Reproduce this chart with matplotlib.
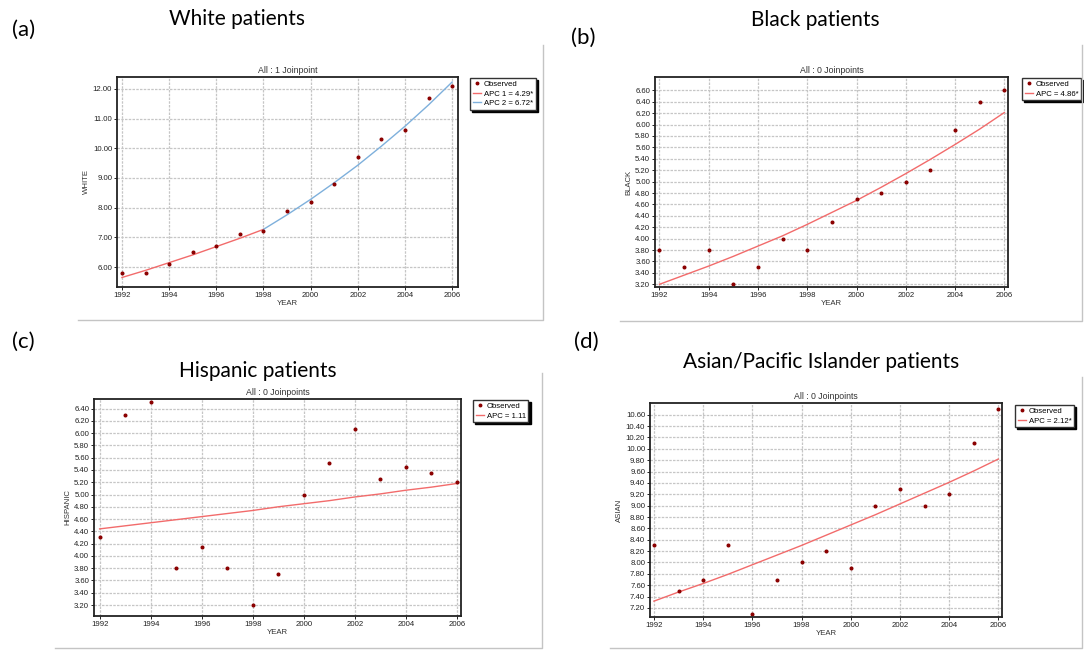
import matplotlib
matplotlib.use("Agg")
import matplotlib.pyplot as plt
from matplotlib.lines import Line2D
import numpy as np

W, H = 1084, 650

years = list(range(1992, 2007))
year_ticks = list(range(1992, 2007, 2))

white_obs = [5.8, 5.8, 6.1, 6.5, 6.7, 7.1, 7.2, 7.9, 8.2, 8.8, 9.7, 10.3, 10.6, 11.7, 12.1]
white_fit1_years = list(range(1992, 1999))
white_fit1 = [5.65, 5.89, 6.15, 6.41, 6.69, 6.97, 7.27]
white_fit2_years = list(range(1998, 2007))
white_fit2 = [7.27, 7.76, 8.28, 8.84, 9.43, 10.07, 10.74, 11.46, 12.23]

black_obs = [3.8, 3.5, 3.8, 3.2, 3.5, 4.0, 3.8, 4.3, 4.7, 4.8, 5.0, 5.2, 5.9, 6.4, 6.6]
black_fit = [3.20, 3.36, 3.52, 3.69, 3.87, 4.05, 4.25, 4.46, 4.67, 4.90, 5.14, 5.39, 5.65, 5.92, 6.21]

hisp_obs = [4.3, 6.3, 6.5, 3.8, 4.15, 3.8, 3.2, 3.7, 5.0, 5.52, 6.06, 5.25, 5.45, 5.35, 5.2]
hisp_fit = [4.44, 4.49, 4.54, 4.59, 4.64, 4.69, 4.74, 4.80, 4.85, 4.90, 4.96, 5.01, 5.07, 5.12, 5.18]

asian_obs = [8.3, 7.5, 7.7, 8.3, 7.1, 7.7, 8.0, 8.2, 7.9, 9.0, 9.3, 9.0, 9.2, 10.1, 10.7]
asian_fit = [7.32, 7.48, 7.63, 7.79, 7.96, 8.13, 8.30, 8.48, 8.66, 8.84, 9.03, 9.22, 9.41, 9.61, 9.82]

plt.rcParams["font.family"] = ["Liberation Sans", "DejaVu Sans"]

fig = plt.figure(figsize=(W / 100, H / 100), dpi=100)
fig.patch.set_facecolor("white")

OBS_C = "#8b0000"
RED = "#f26b6b"
BLUE = "#7eb0dc"
GRID = "#c6c6c6"
SMALL = 5.6
BIGFONT = ["Lato", "Open Sans", "DejaVu Sans"]


def fx(px):
    return px / W


def fy(py):
    return 1 - py / H


def add_ax(x0, y0, x1, y1):
    return fig.add_axes([fx(x0), fy(y1), fx(x1) - fx(x0), (y1 - y0) / H])


def style(ax, xlim, ylim, yticks, ylabel, title):
    ax.set_xlim(*xlim)
    ax.set_ylim(*ylim)
    ax.set_xticks(year_ticks)
    ax.set_xticklabels([str(y) for y in year_ticks], fontsize=SMALL, color="#222222")
    ax.set_yticks(yticks)
    ax.set_yticklabels([f"{v:.2f}" for v in yticks], fontsize=SMALL, color="#222222")
    ax.tick_params(length=2, width=0.6, pad=1.5)
    ax.grid(True, color=GRID, linestyle=(0, (2, 1)), linewidth=0.9)
    ax.set_axisbelow(True)
    for s in ax.spines.values():
        s.set_linewidth(1.3)
        s.set_color("#222222")
    ax.set_xlabel("YEAR", fontsize=SMALL, labelpad=1, color="#333333")
    ax.set_ylabel(ylabel, fontsize=SMALL, labelpad=2, color="#333333")
    ax.set_title(title, fontsize=6.3, pad=3, color="#333333")


def legend(ax, handles, labels, x0, y0):
    ax.legend(handles, labels, loc="upper left", bbox_to_anchor=(fx(x0), fy(y0)),
              bbox_transform=fig.transFigure, fontsize=SMALL, frameon=True,
              fancybox=False, edgecolor="#333333", framealpha=1,
              shadow={"ox": 1.5, "oy": -1.5, "color": "black", "alpha": 1},
              handlelength=1.0, handletextpad=0.4, borderpad=0.35,
              labelspacing=0.25, borderaxespad=0)


obs_handle = Line2D([], [], marker="o", markersize=1.8, color=OBS_C, linestyle="none")
red_handle = Line2D([], [], color=RED, linewidth=1)
blue_handle = Line2D([], [], color=BLUE, linewidth=1)
MS = 1.9

# (a) White
ax = add_ax(117, 77, 458, 287)
ax.plot(white_fit1_years, white_fit1, color=RED, linewidth=1)
ax.plot(white_fit2_years, white_fit2, color=BLUE, linewidth=1)
ax.plot(years, white_obs, "o", color=OBS_C, markersize=MS)
style(ax, (1991.79, 2006.25), (5.33, 12.40), list(np.arange(6, 12.5, 1.0)), "WHITE", "All : 1 Joinpoint")
legend(ax, [obs_handle, red_handle, blue_handle], ["Observed", "APC 1 = 4.29*", "APC 2 = 6.72*"], 470, 78)

# (b) Black
ax = add_ax(655, 77, 1008, 287)
ax.plot(years, black_fit, color=RED, linewidth=1)
ax.plot(years, black_obs, "o", color=OBS_C, markersize=MS)
style(ax, (1991.82, 2006.15), (3.153, 6.833), list(np.round(np.arange(3.2, 6.61, 0.2), 2)), "BLACK", "All : 0 Joinpoints")
legend(ax, [obs_handle, red_handle], ["Observed", "APC = 4.86*"], 1022, 78)

# (c) Hispanic
ax = add_ax(94, 399, 461, 616)
ax.plot(years, hisp_fit, color=RED, linewidth=1)
ax.plot(years, hisp_obs, "o", color=OBS_C, markersize=MS)
style(ax, (1991.78, 2006.16), (3.021, 6.556), list(np.round(np.arange(3.2, 6.41, 0.2), 2)), "HISPANIC", "All : 0 Joinpoints")
legend(ax, [obs_handle, red_handle], ["Observed", "APC = 1.11"], 473, 400)

# (d) Asian/Pacific Islander
ax = add_ax(650, 403, 1002, 617)
ax.plot(years, asian_fit, color=RED, linewidth=1)
ax.plot(years, asian_obs, "o", color=OBS_C, markersize=MS)
style(ax, (1991.84, 2006.15), (7.041, 10.806), list(np.round(np.arange(7.2, 10.61, 0.2), 2)), "ASIAN", "All : 0 Joinpoints")
legend(ax, [obs_handle, red_handle], ["Observed", "APC = 2.12*"], 1015, 405)

# panel frames (screenshot borders)
frames = [
    ((543, 45), (543, 320), (78, 320)),
    ((1082, 45), (1082, 321), (620, 321)),
    ((542, 373), (542, 648), (55, 648)),
    ((1082, 377), (1082, 648), (610, 648)),
]
for (a, b, c) in frames:
    fig.add_artist(Line2D([fx(a[0]), fx(b[0]), fx(c[0])], [fy(a[1]), fy(b[1]), fy(c[1])],
                          transform=fig.transFigure, color="#c4c4c4", linewidth=1))

# big panel labels and titles
labels = [("(a)", 12, 30), ("(b)", 571, 38), ("(c)", 12, 342), ("(d)", 574, 342)]
for t, x, y in labels:
    fig.text(fx(x), fy(y), t, fontsize=16, family=BIGFONT, ha="left", va="center")

titles = [("White patients", 237, 19), ("Black patients", 815, 20),
          ("Hispanic patients", 258, 371), ("Asian/Pacific Islander patients", 821, 362)]
for t, x, y in titles:
    fig.text(fx(x), fy(y), t, fontsize=15, family=BIGFONT, ha="center", va="center")

fig.savefig("out.png", dpi=100, facecolor="white")
